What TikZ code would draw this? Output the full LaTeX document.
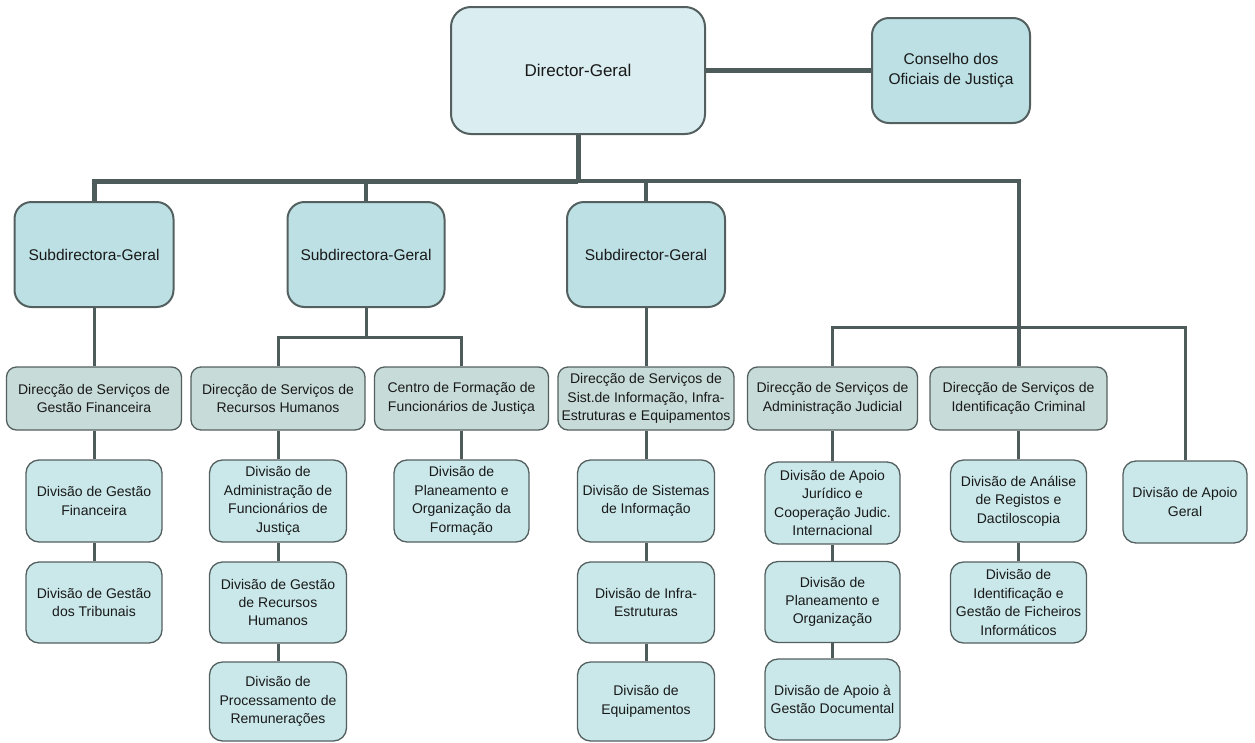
\documentclass[tikz,border=0pt]{standalone}
\usepackage{fontspec}
\setmainfont{Liberation Sans}
\definecolor{wire}{RGB}{78,91,91}
\definecolor{edge}{RGB}{84,96,96}
\definecolor{topfill}{RGB}{218,237,240}
\definecolor{subfill}{RGB}{188,224,227}
\definecolor{dsfill}{RGB}{199,219,216}
\definecolor{divfill}{RGB}{202,232,234}
\begin{document}
\begin{tikzpicture}[x=1pt,y=-1pt,
  box/.style={draw=edge, align=center, inner sep=0pt, text=black!90},
  topbox/.style={box, fill=topfill, line width=2pt, rounded corners=20pt,
    font=\fontsize{17}{20}\selectfont},
  subbox/.style={box, fill=subfill, line width=2pt, rounded corners=17pt,
    font=\fontsize{15.5}{20}\selectfont},
  dsbox/.style={box, fill=dsfill, line width=1.3pt, rounded corners=10pt,
    minimum height=63pt, font=\fontsize{14}{18.5}\selectfont},
  divbox/.style={box, fill=divfill, line width=1.3pt, rounded corners=13pt,
    font=\fontsize{14}{18.4}\selectfont},
  wthick/.style={draw=wire, line width=5pt},
  wmid/.style={draw=wire, line width=4pt},
  wthin/.style={draw=wire, line width=3pt},
]
\useasboundingbox (0,0) rectangle (1255,742);

% top level
\node[topbox, minimum width=254pt, minimum height=127pt] (dg) at (578,70.5) {Director-Geral};
\node[subbox, minimum width=158pt, minimum height=105pt] (coj) at (951,70.5) {Conselho dos\\Oficiais de Justiça};

% deputy directors
\node[subbox, minimum width=159pt, minimum height=105pt] (s1) at (94,254.5) {Subdirectora-Geral};
\node[subbox, minimum width=157pt, minimum height=105pt] (s2) at (366,254.5) {Subdirectora-Geral};
\node[subbox, minimum width=158pt, minimum height=105pt] (s3) at (646,254.5) {Subdirector-Geral};

% services
\node[dsbox, minimum width=175pt] (d1) at (94,398.5) {Direcção de Serviços de\\Gestão Financeira};
\node[dsbox, minimum width=174pt] (d2) at (278,398.5) {Direcção de Serviços de\\Recursos Humanos};
\node[dsbox, minimum width=174pt] (d3) at (461.5,398.5) {Centro de Formação de\\Funcionários de Justiça};
\node[dsbox, minimum width=176pt] (d4) at (646,398.5) {Direcção de Serviços de\\Sist.de Informação, Infra-\\Estruturas e Equipamentos};
\node[dsbox, minimum width=170pt] (d5) at (832.5,398.5) {Direcção de Serviços de\\Administração Judicial};
\node[dsbox, minimum width=177pt] (d6) at (1018.5,398.5) {Direcção de Serviços de\\Identificação Criminal};

% divisions
\node[divbox, minimum width=136pt, minimum height=82pt] (c1a) at (94,501) {Divisão de Gestão\\Financeira};
\node[divbox, minimum width=136pt, minimum height=81pt] (c1b) at (94,602.5) {Divisão de Gestão\\dos Tribunais};

\node[divbox, minimum width=137pt, minimum height=82pt] (c2a) at (278,501) {Divisão de\\Administração de\\Funcionários de\\Justiça};
\node[divbox, minimum width=137pt, minimum height=81pt] (c2b) at (278,602.5) {Divisão de Gestão\\de Recursos\\Humanos};
\node[divbox, minimum width=137pt, minimum height=79pt] (c2c) at (278,701.5) {Divisão de\\Processamento de\\Remunerações};

\node[divbox, minimum width=135pt, minimum height=82pt] (c3a) at (461.5,501) {Divisão de\\Planeamento e\\Organização da\\Formação};

\node[divbox, minimum width=137pt, minimum height=82pt] (c4a) at (646,501) {Divisão de Sistemas\\de Informação};
\node[divbox, minimum width=137pt, minimum height=81pt] (c4b) at (646,602.5) {Divisão de Infra-\\Estruturas};
\node[divbox, minimum width=137pt, minimum height=79pt] (c4c) at (646,701.5) {Divisão de\\Equipamentos};

\node[divbox, minimum width=135pt, minimum height=82pt] (c5a) at (832.5,503) {Divisão de Apoio\\Jurídico e\\Cooperação Judic.\\Internacional};
\node[divbox, minimum width=135pt, minimum height=81pt] (c5b) at (832.5,602) {Divisão de\\Planeamento e\\Organização};
\node[divbox, minimum width=135pt, minimum height=81pt] (c5c) at (832.5,699.5) {Divisão de Apoio à\\Gestão Documental};

\node[divbox, minimum width=136pt, minimum height=82pt] (c6a) at (1018.5,501) {Divisão de Análise\\de Registos e\\Dactiloscopia};
\node[divbox, minimum width=136pt, minimum height=81pt] (c6b) at (1018.5,602.5) {Divisão de\\Identificação e\\Gestão de Ficheiros\\Informáticos};

\node[divbox, minimum width=124pt, minimum height=82pt] (c7a) at (1185,502) {Divisão de Apoio\\Geral};

% junction points
\coordinate (bus) at (578,181);
\coordinate (split2) at (366,337);
\coordinate (splitR) at (1018.5,327);

% top connectors
\draw[wthick] (dg.east) -- (coj.west);
\draw[wthick] (dg.south) -- (bus);
\draw[wthick] (bus) -| (s1.north);
\draw[wmid] (s2.north) -- (s2.north |- bus);
\draw[wmid] (bus) -| (d6.north);
\draw[wmid] (s3.north) -- (s3.north |- bus);

% deputy directors to services
\draw[wthin] (s1.south) -- (d1.north);
\draw[wthin] (s2.south) -- (split2);
\draw[wthin] (d2.north) |- (split2) -| (d3.north);
\draw[wthin] (s3.south) -- (d4.north);
\draw[wthin] (d5.north) |- (splitR) -| (c7a.north);

% services to divisions
\draw[wthin] (d1.south) -- (c1a.north);
\draw[wthin] (c1a.south) -- (c1b.north);
\draw[wthin] (d2.south) -- (c2a.north);
\draw[wthin] (c2a.south) -- (c2b.north);
\draw[wthin] (c2b.south) -- (c2c.north);
\draw[wthin] (d3.south) -- (c3a.north);
\draw[wthin] (d4.south) -- (c4a.north);
\draw[wthin] (c4a.south) -- (c4b.north);
\draw[wthin] (c4b.south) -- (c4c.north);
\draw[wthin] (d5.south) -- (c5a.north);
\draw[wthin] (c5a.south) -- (c5b.north);
\draw[wthin] (c5b.south) -- (c5c.north);
\draw[wthin] (d6.south) -- (c6a.north);
\draw[wthin] (c6a.south) -- (c6b.north);
\end{tikzpicture}
\end{document}
